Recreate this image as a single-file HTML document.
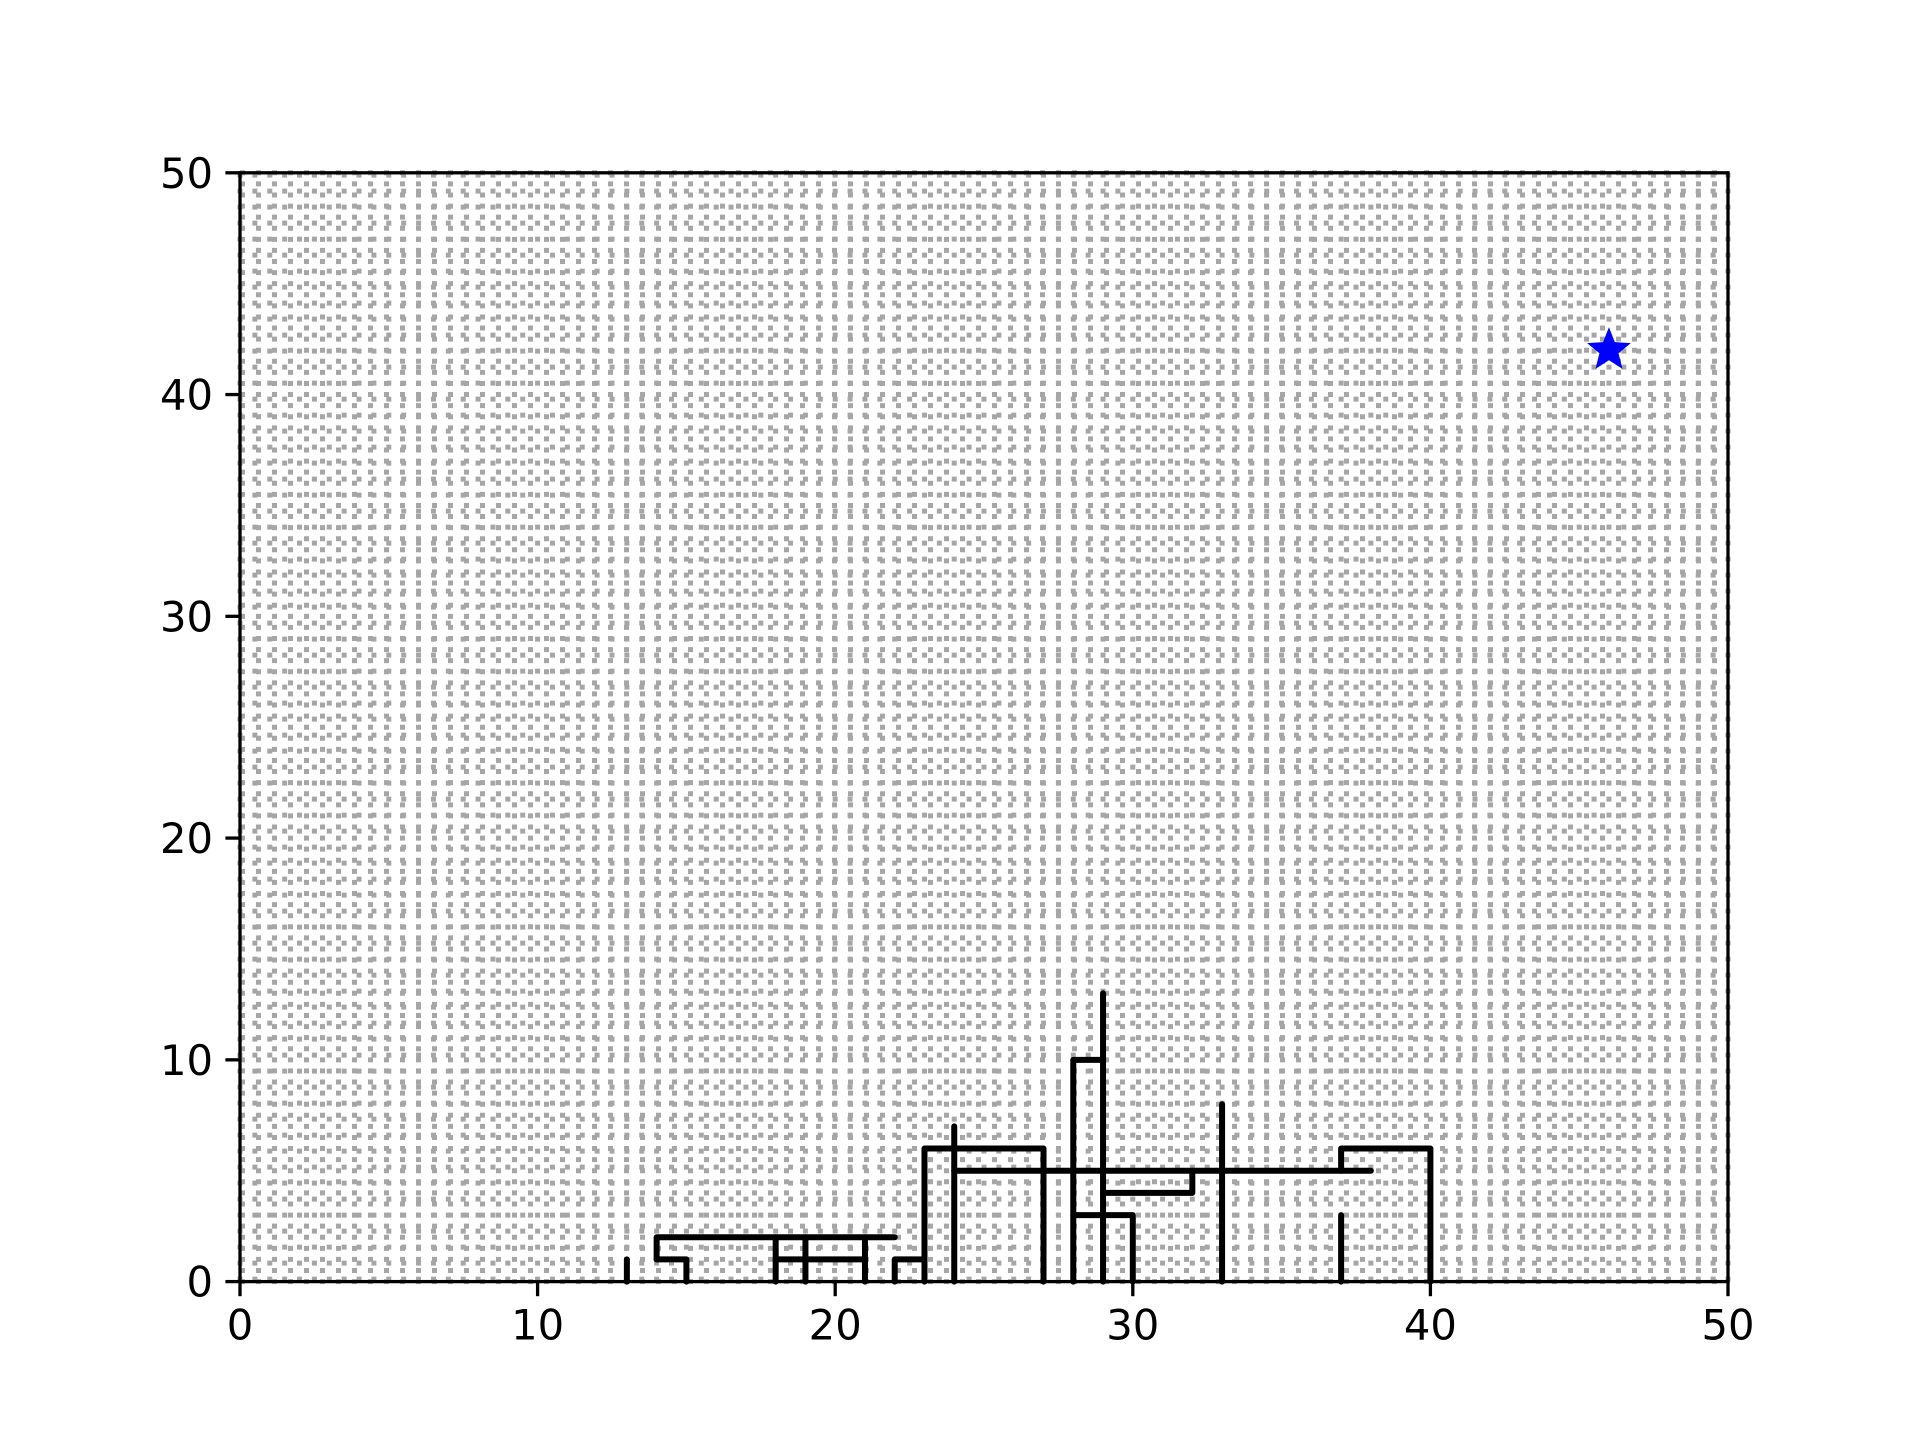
<!DOCTYPE html>
<html><head><meta charset="utf-8"><style>
html,body{margin:0;padding:0;background:#fff}
svg text{font-family:"DejaVu Sans","Liberation Sans",sans-serif;font-size:41.7px;fill:#000}
</style></head><body>
<svg id="chart" width="1920" height="1440" viewBox="0 0 1920 1440" xmlns="http://www.w3.org/2000/svg">
<rect width="1920" height="1440" fill="#fff"/>
<g id="grid"></g>
<g id="walls"></g>
<g id="marker"></g>
<rect x="240" y="172.8" width="1488" height="1108.8" fill="none" stroke="#000" stroke-width="3.3"/>
<g id="ticks"></g>
</svg>
<script>
const xTicks=[0,10,20,30,40,50];
const yTicks=[0,10,20,30,40,50];
const walls=[
 [[13,0],[13,1]],
 [[14,1],[14,2],[22,2]],
 [[14,1],[15,1],[15,0]],
 [[18,0],[18,2]],
 [[19,0],[19,2]],
 [[18,1],[21,1]],
 [[21,0],[21,2]],
 [[22,0],[22,1],[23,1]],
 [[23,0],[23,6],[27,6],[27,0]],
 [[24,0],[24,7]],
 [[24,5],[38,5]],
 [[28,0],[28,10],[29,10]],
 [[29,0],[29,13]],
 [[28,3],[30,3],[30,0]],
 [[29,4],[32,4],[32,5]],
 [[33,0],[33,8]],
 [[37,0],[37,3]],
 [[37,5],[37,6],[40,6],[40,0]]
];
const goal=[46,42];
const X0=240,X1=1728,Y0=1281.6,Y1=172.8;
const sx=v=>X0+v/50*(X1-X0);
const sy=v=>Y0-v/50*(Y0-Y1);
const NS='http://www.w3.org/2000/svg';
function mk(t,a){const e=document.createElementNS(NS,t);for(const k in a)e.setAttribute(k,a[k]);return e;}
const g=document.getElementById('grid');
for(let i=0;i<=100;i++){
 const v=i/2;
 const lv=mk('line',{x1:sx(v),y1:Y0,x2:sx(v),y2:Y1,stroke:'#a6a6a6','stroke-width':5,'stroke-dasharray':'5 11'});
 
 
 g.appendChild(lv);
 const lh=mk('line',{x1:X0,y1:sy(v),x2:X1,y2:sy(v),stroke:'#a6a6a6','stroke-width':5,'stroke-dasharray':'5 11'});
 
 
 g.appendChild(lh);
}
const w=document.getElementById('walls');
walls.forEach(seg=>{
 const p=mk('polyline',{points:seg.map(q=>sx(q[0])+','+sy(q[1])).join(' '),fill:'none',stroke:'#000','stroke-width':6,'stroke-linecap':'round','stroke-linejoin':'round'});
 
 
 w.appendChild(p);
});
const m=document.getElementById('marker');
const cx=sx(goal[0]),cy=sy(goal[1]);let pts=[];
for(let i=0;i<10;i++){const r=i%2?10:23;const a=-Math.PI/2+i*Math.PI/5;pts.push((cx+r*Math.cos(a))+','+(cy+r*Math.sin(a)));}
const star=mk('polygon',{points:pts.join(' '),fill:'#0000ff'});


m.appendChild(star);
const t=document.getElementById('ticks');
xTicks.forEach(v=>{
 const l=mk('line',{x1:sx(v),y1:Y0,x2:sx(v),y2:Y0+14.6,stroke:'#000','stroke-width':3.3});
 
 
 t.appendChild(l);
 const tx=mk('text',{x:sx(v),y:Y0+58,'text-anchor':'middle'});tx.textContent=v;
 
 
 t.appendChild(tx);
});
yTicks.forEach(v=>{
 const l=mk('line',{x1:X0-14.6,y1:sy(v),x2:X0,y2:sy(v),stroke:'#000','stroke-width':3.3});
 
 
 t.appendChild(l);
 const tx=mk('text',{x:X0-27,y:sy(v)+15,'text-anchor':'end'});tx.textContent=v;
 
 
 t.appendChild(tx);
});
</script>
</body></html>
